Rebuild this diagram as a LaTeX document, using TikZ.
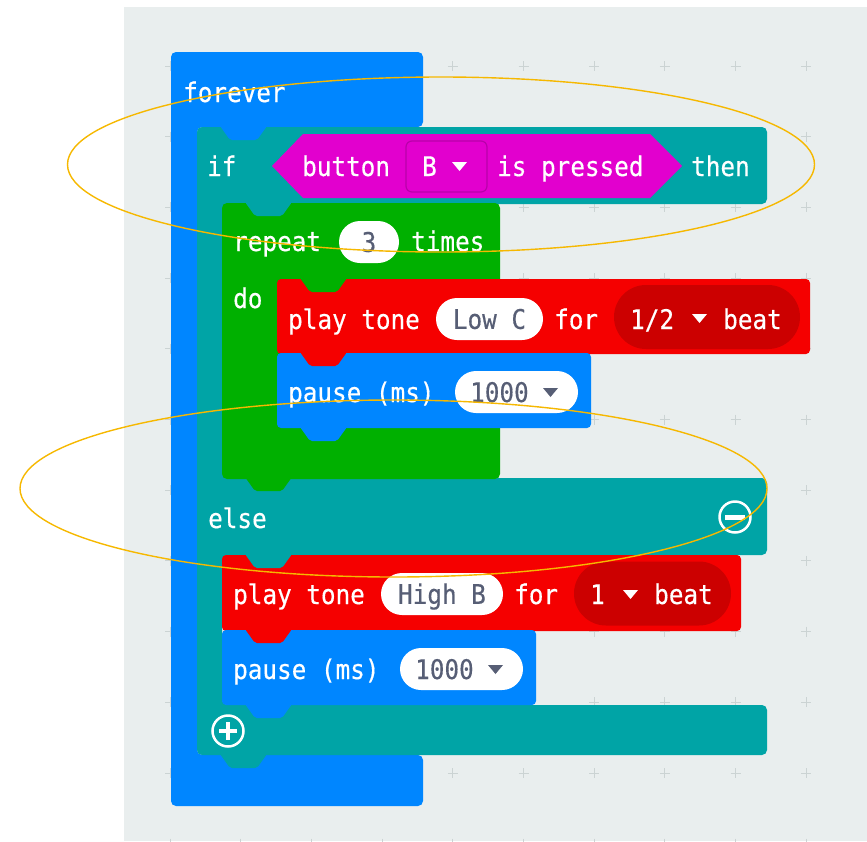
\documentclass[tikz,border=0pt]{standalone}
\usepackage{fontspec}
\newfontfamily\blockfont[FakeStretch=0.9, FakeBold=0.4]{DejaVu Sans Mono}
\usetikzlibrary{shapes.misc}

\definecolor{canvas}{RGB}{233,238,238}
\definecolor{gridmark}{RGB}{203,211,211}
\definecolor{foreverblue}{RGB}{0,134,255}
\definecolor{logicteal}{RGB}{0,164,166}
\definecolor{loopgreen}{RGB}{0,176,0}
\definecolor{musicred}{RGB}{245,0,0}
\definecolor{beatred}{RGB}{204,0,0}
\definecolor{inputmag}{RGB}{226,0,206}
\definecolor{inputdark}{RGB}{185,0,170}
\definecolor{valgrey}{RGB}{87,94,117}
\definecolor{ringorange}{RGB}{246,184,0}

% tab of the upper block, sitting in the notch of the lower one
\newcommand{\notchtab}[3]{\fill[#3, rounded corners=2pt] (#1,#2-1) -- ++(47,0) -- ++(-10,14) -- ++(-27,0) -- cycle;}
% small dropdown arrow
\newcommand{\ddarrow}[3]{\fill[#3] (#1,#2-4) -- ++(15,0) -- ++(-7.5,9) -- cycle;}

\begin{document}
\begin{tikzpicture}[x=1pt, y=-1pt,
  lbl/.style={font=\blockfont\fontsize{27}{30}\selectfont, text=white, anchor=base west, inner sep=0pt},
  val/.style={lbl, text=valgrey},
  pill/.style={shape=rounded rectangle, fill=white, inner sep=0pt, minimum height=42pt, text height=19.7pt, text depth=0pt, font=\blockfont\fontsize{27}{30}\selectfont, text=valgrey},
  beatpill/.style={shape=rounded rectangle, fill=beatred, inner sep=0pt, minimum height=64pt},
  ring/.style={draw=ringorange, line width=1.4pt}]
\useasboundingbox (0,0) rectangle (867,841);
\fill[canvas] (124,7) rectangle (867,841);
\foreach \gx in {0,...,9}
  \foreach \gy in {0,...,11}
    \draw[gridmark, line width=1pt] ({170+70.7*\gx-5},{66+70.7*\gy}) -- ++(10,0)
      ({170+70.7*\gx},{66+70.7*\gy-5}) -- ++(0,10);

% forever
\fill[foreverblue, rounded corners=5pt] (171,52) -- (423,52) -- (423,127) -- (197,127)
  -- (197,755) -- (423,755) -- (423,806) -- (171,806) -- cycle;
% if / else
\fill[logicteal, rounded corners=5pt] (197,127) -- (767,127) -- (767,204) -- (222,204)
  -- (222,478) -- (767,478) -- (767,555) -- (222,555) -- (222,705) -- (767,705)
  -- (767,755) -- (197,755) -- cycle;
% repeat
\fill[loopgreen, rounded corners=5pt] (222,203) rectangle (500,479);
% inner statements
\fill[musicred, rounded corners=4pt] (277,279) rectangle (810,354);
\fill[foreverblue, rounded corners=4pt] (277,353) rectangle (591,428);
\fill[musicred, rounded corners=4pt] (222,555) rectangle (741,631);
\fill[foreverblue, rounded corners=4pt] (222,630) rectangle (536,705);

\notchtab{220}{127}{foreverblue}
\notchtab{245}{203}{logicteal}
\notchtab{300}{279}{loopgreen}
\notchtab{300}{353}{musicred}
\notchtab{300}{428}{foreverblue}
\notchtab{245}{478}{loopgreen}
\notchtab{245}{555}{logicteal}
\notchtab{245}{630}{musicred}
\notchtab{245}{705}{foreverblue}
\notchtab{220}{755}{logicteal}

% condition
\fill[inputmag] (272,166) -- (303,134) -- (650,134) -- (682,166) -- (650,198) -- (303,198) -- cycle;
\draw[inputdark, fill=inputmag, line width=1.2pt, rounded corners=6pt] (406,141) rectangle (487,192);
\ddarrow{452}{166}{white}

\node[lbl] (forever) at (183,102) {forever};
\node[lbl] (iflbl) at (207,176) {if};
\node[lbl] (button) at (302,176) {button};
\node[lbl] (btnkey) at (422,176) {B};
\node[lbl] (pressed) at (497,176) {is pressed};
\node[lbl] (then) at (691,176) {then};

\node[lbl] (repeat) at (233,251) {repeat};
\node[pill, minimum width=60pt] (times3) at (369,242) {3};
\node[lbl] (times) at (411,251) {times};
\node[lbl] (dolbl) at (233,308) {do};

\node[lbl] (playa) at (288,329) {play tone};
\node[pill, minimum width=107pt] (lowc) at (489.5,319) {Low C};
\node[lbl] (fora) at (554,329) {for};
\node[beatpill, minimum width=186pt] (beata) at (707,317) {};
\node[lbl] (halfval) at (630,329) {1/2};
\ddarrow{692}{318}{white}
\node[lbl] (beatatxt) at (723,329) {beat};

\node[lbl] (pausea) at (288,402) {pause (ms)};
\node[pill, minimum width=123pt] (msa) at (516.5,392) {};
\node[val] (msaval) at (470,402) {1000};
\ddarrow{543}{392}{valgrey}

\node[lbl] (elselbl) at (208,528) {else};
\draw[white, line width=2.5pt] (735,517) circle (15.5pt);
\draw[white, line width=5pt] (725,517) -- (745,517);

\node[lbl] (playb) at (233,604) {play tone};
\node[pill, minimum width=122pt] (highb) at (442,594) {High B};
\node[lbl] (forb) at (514,604) {for};
\node[beatpill, minimum width=157pt] (beatb) at (652.5,593.5) {};
\node[lbl] (oneval) at (590,604) {1};
\ddarrow{623}{594}{white}
\node[lbl] (beatbtxt) at (654,604) {beat};

\node[lbl] (pauseb) at (233,679) {pause (ms)};
\node[pill, minimum width=123pt] (msb) at (461.5,669) {};
\node[val] (msbval) at (415,679) {1000};
\ddarrow{488}{669}{valgrey}

\draw[white, line width=2.5pt] (228,731) circle (15.5pt);
\draw[white, line width=4pt] (219,731) -- (237,731) (228,722) -- (228,740);

% highlight rings
\draw[ring] (441,164.5) ellipse [x radius=373.5pt, y radius=87.5pt];
\draw[ring] (393.5,488.5) ellipse [x radius=373.5pt, y radius=88.5pt];
\end{tikzpicture}
\end{document}
